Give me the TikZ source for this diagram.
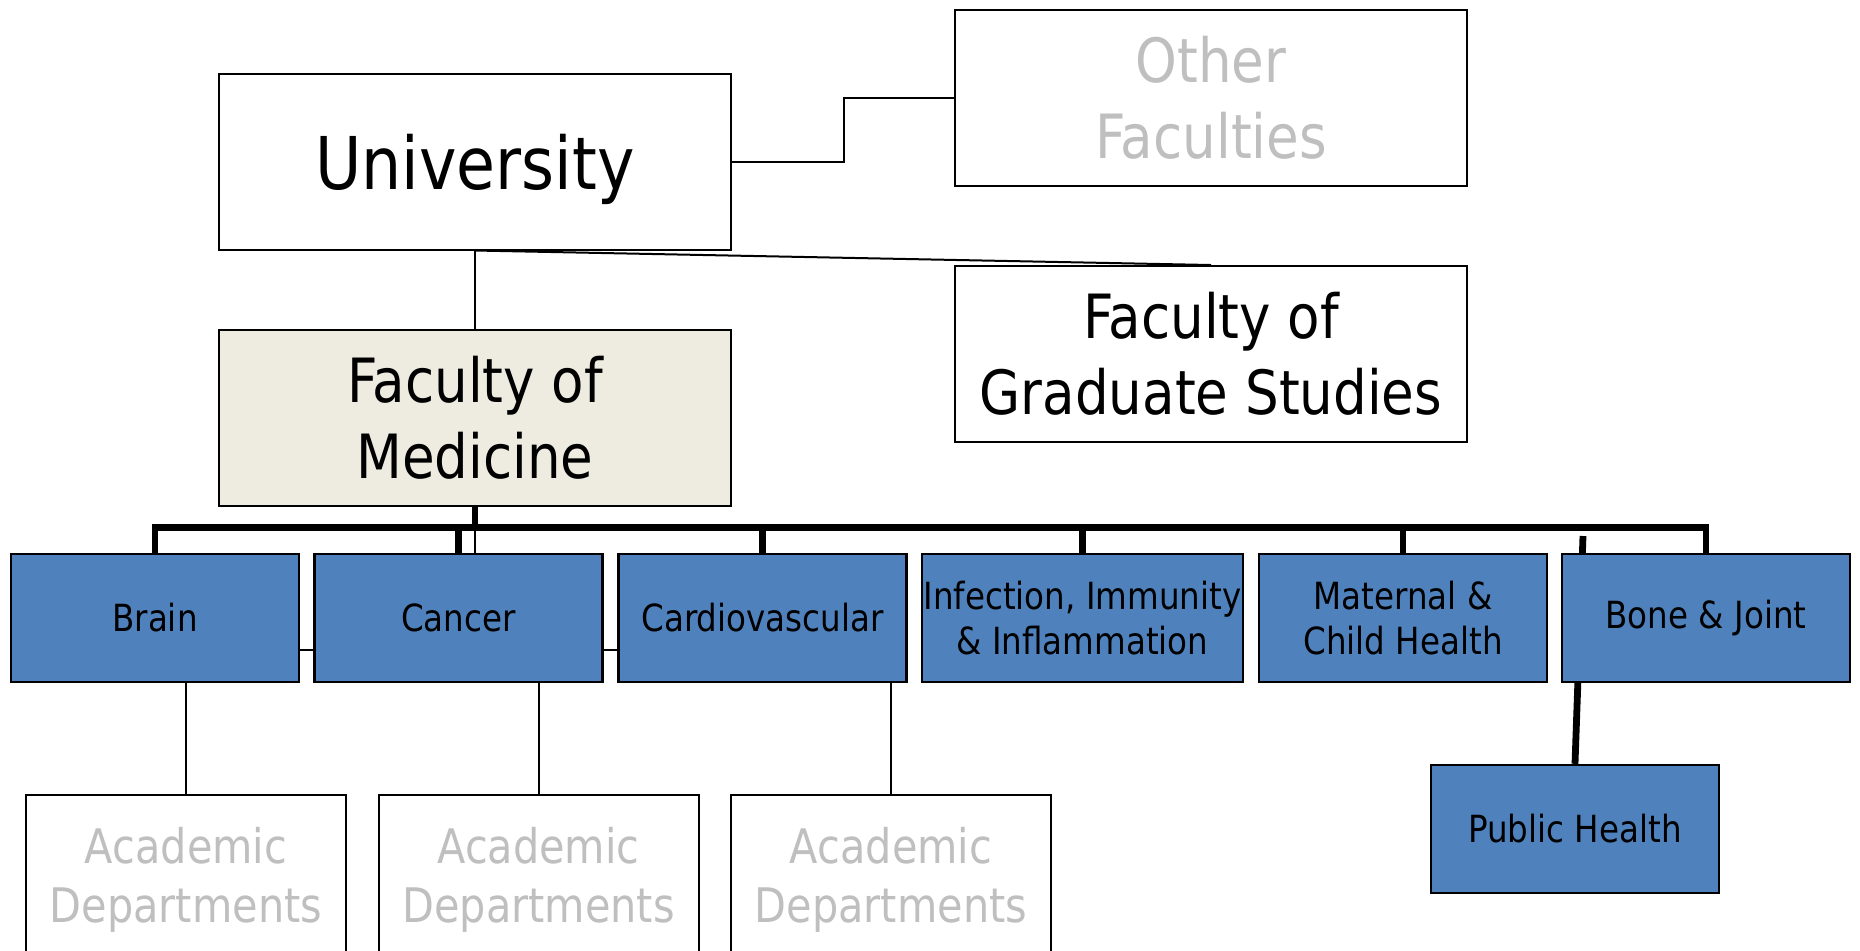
\documentclass[tikz,border=0pt]{standalone}
\usepackage{fontspec}
\setmainfont{DejaVu Sans}[FakeStretch=0.87]
\usetikzlibrary{backgrounds}

\definecolor{unitblue}{HTML}{4F81BD}
\definecolor{medbeige}{HTML}{EEECE1}
\definecolor{greytext}{HTML}{BFBFBF}

\tikzset{
    bigbox/.style={draw=black, line width=1pt, fill=white, minimum width=256pt, minimum height=88pt,
        inner sep=0pt, align=center, font=\fontsize{30.5}{38}\selectfont},
    unitbox/.style={draw=black, line width=1.2pt, fill=unitblue, minimum width=144pt, minimum height=64pt,
        inner sep=0pt, align=center, font=\fontsize{18.7}{22.5}\selectfont},
    deptbox/.style={draw=black, line width=1pt, fill=white, text=greytext, minimum width=160pt, minimum height=84pt,
        inner sep=0pt, align=center, font=\fontsize{23.8}{29.5}\selectfont},
    thinline/.style={line width=1pt},
    thickline/.style={line width=3.4pt},
}

\begin{document}
\begin{tikzpicture}[x=0.5pt, y=-0.5pt]

    % Fix the page size (pixel units, y runs downwards)
    \useasboundingbox (0,0) rectangle (1860,950);
    \clip (0,0) rectangle (1860,950);

    \def\unity{618} % centre line of the research units
    \def\depty{880} % centre line of the departments

    % --- Top level ---
    \node[bigbox, font=\fontsize{36.4}{44}\selectfont, text depth=0pt] (univ) at (475,161.5) {University};
    \node[bigbox, text=greytext] (other) at (1211,97.5) {Other\\Faculties};
    \node[bigbox] (grad) at (1211,354) {Faculty of\\Graduate Studies};
    \node[bigbox, fill=medbeige] (med) at (475,417.5) {Faculty of\\Medicine};

    % --- Research units ---
    \foreach \name/\cx/\txt in {brain/155/Brain, cancer/458.5/Cancer, cardio/762.5/Cardiovascular,
        maternal/1403/{Maternal \&\\Child Health}, bone/1706/{Bone \& Joint}} {
        \node[unitbox] (\name) at (\cx,\unity) {\txt};
    }
    \node[unitbox, minimum width=160.5pt] (infect) at (1082.5,\unity) {Infection, Immunity\\\& Inflammation};
    \node[unitbox] (pubh) at (1575,829) {Public Health};

    % --- Academic departments (run off the bottom) ---
    \foreach \i/\cx in {1/186, 2/538.5, 3/891} {
        \node[deptbox, minimum height=85pt] (dept\i) at (\cx,\depty) {Academic\\Departments};
    }

    % --- Connectors, behind the boxes ---
    \begin{scope}[on background layer]
        \draw[thinline] (univ.east) -- ++(112,0) |- (other.west);
        \draw[thinline] (univ.south) -- (grad.north);
        \draw[thinline] (univ.south) -- (univ.south |- cancer.north);

        % thick bus under the Faculty of Medicine
        \draw[thickline] (med.south) -- ++(0,24);
        \draw[thickline] (brain.north) -- ++(0,-25) -| (bone.north);
        \foreach \name in {cancer, cardio, infect, maternal} {
            \draw[thickline] (\name.north) -- ++(0,-25);
        }
        \coordinate (bjstub) at (1583,536);
        \draw[thickline] (bjstub) -- (pubh.north);

        % small links between neighbouring units
        \draw[thinline] ([yshift=-16pt]brain.east) -- ([yshift=-16pt]cancer.west);
        \draw[thinline] ([yshift=-16pt]cancer.east) -- ([yshift=-16pt]cardio.west);

        \foreach \i/\name in {1/brain, 2/cancer, 3/cardio} {
            \draw[thinline] (dept\i.north |- \name.south) -- (dept\i.north);
        }
    \end{scope}

\end{tikzpicture}
\end{document}
